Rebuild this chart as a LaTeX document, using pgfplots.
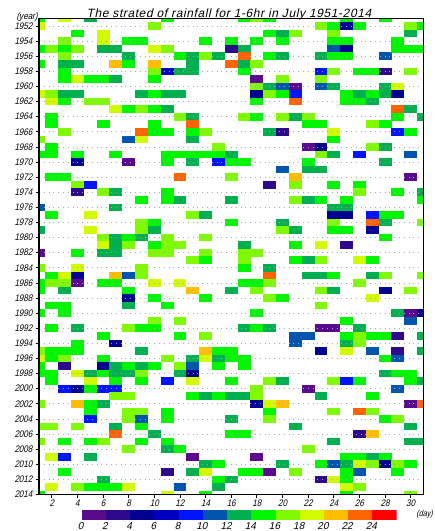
\documentclass[border=0pt]{standalone}
\usepackage{pgfplots}
\usepackage{pgfplotstable}
\pgfplotsset{compat=1.18}
\usepackage{fontspec}
\setmainfont{Liberation Sans}
\newfontfamily\gfont[FakeStretch=0.85,FakeSlant=0.22]{Liberation Sans}
\newfontfamily\tfont[FakeSlant=0.22,LetterSpace=5]{Liberation Sans}
\newfontfamily\cfont[FakeSlant=0.22]{Liberation Sans}
\definecolor{cb1}{RGB}{90,10,140}
\definecolor{cb2}{RGB}{45,10,140}
\definecolor{cb3}{RGB}{0,0,145}
\definecolor{cb4}{RGB}{0,0,190}
\definecolor{cb5}{RGB}{0,20,255}
\definecolor{cb6}{RGB}{0,85,175}
\definecolor{cb7}{RGB}{0,175,80}
\definecolor{cb8}{RGB}{0,245,0}
\definecolor{cb9}{RGB}{128,250,0}
\definecolor{cb10}{RGB}{210,250,0}
\definecolor{cb11}{RGB}{255,190,0}
\definecolor{cb12}{RGB}{255,100,0}
\definecolor{cb13}{RGB}{255,0,0}
\pgfdeclareplotmark{cell}{%
  \pgfpathrectangle{\pgfpoint{-6.46pt}{-3.83pt}}{\pgfpoint{12.92pt}{7.66pt}}%
  \pgfusepathqfill}
\pgfplotstableread{
year d1 d2 d3 d4 d5 d6 d7 d8 d9 d10 d11 d12 d13 d14 d15 d16 d17 d18 d19 d20 d21 d22 d23 d24 d25 d26 d27 d28 d29 d30 d31
1951 8 0 10 0 7 0 0 0 0 0  8 0 0 0 0 0 8 9 8 0  0 0 0 0 8 0 0 8 0 0  0
1952 10 0 0 0 0 0 0 0 0 9  0 0 0 0 0 0 0 0 0 0  0 0 9 8 3 8 0 0 0 9  8
1953 0 0 0 8 0 10 0 0 0 0  0 0 0 0 0 0 0 0 8 7  9 0 0 9 0 0 0 0 0 7  0
1954 0 0 9 0 0 10 0 8 8 0  0 0 0 8 0 8 0 8 0 8  0 0 0 8 8 0 0 0 8 0  0
1955 8 9 8 9 0 7 7 0 0 10  9 0 0 0 0 2 7 0 0 0  0 0 0 6 3 0 0 0 8 8  8
1956 0 0 9 0 0 0 0 7 0 0  0 8 7 9 7 0 12 0 8 7  0 0 7 8 8 0 0 6 0 0  0
1957 8 0 7 7 0 0 11 8 0 11  0 0 7 0 0 12 7 9 0 0  0 0 0 0 0 0 0 0 0 0  0
1958 0 0 8 0 0 0 0 0 0 9  4 7 7 0 0 0 8 0 0 0  0 0 5 9 0 8 8 2 0 9  0
1959 0 0 8 10 8 8 7 0 0 8  0 0 0 0 0 0 0 1 0 9  0 0 9 0 0 0 0 0 0 0  0
1960 0 0 0 0 0 0 0 0 0 0  0 0 0 0 0 0 0 9 7 6  1 0 6 7 0 0 0 7 10 0  0
1961 10 9 7 7 0 0 0 0 7 8  7 7 0 0 0 0 0 3 9 8  5 0 0 0 8 7 8 7 3 0  0
1962 0 10 8 0 9 9 0 0 0 0  0 0 0 0 0 0 0 8 0 0  12 0 0 0 8 8 7 0 0 0  0
1963 0 0 0 0 0 0 10 8 9 8  7 0 0 0 0 0 0 0 0 0  0 0 0 0 0 0 0 0 12 7  0
1964 0 8 0 0 0 0 0 0 0 0  0 9 7 0 0 0 9 8 0 9  7 9 0 0 0 0 0 0 8 0  7
1965 0 8 0 0 0 8 0 0 0 8  0 0 12 0 0 0 0 0 0 0  0 8 8 0 0 0 9 8 0 0  0
1966 0 0 9 0 0 0 0 0 12 8  8 0 8 9 0 0 0 0 7 2  0 0 0 10 0 0 0 0 5 8  0
1967 9 0 0 0 0 0 0 6 10 0  0 0 7 0 0 0 0 0 0 0  0 0 0 8 0 0 0 0 0 0  0
1968 0 8 0 0 0 0 0 0 0 0  0 0 0 0 9 0 0 0 0 0  0 1 3 0 0 0 9 7 0 0  0
1969 8 8 0 8 0 0 8 0 0 0  8 8 8 8 8 7 0 0 0 0  0 0 9 7 0 5 0 0 0 6  0
1970 0 0 0 3 0 0 0 1 0 0  8 0 7 0 5 8 8 0 0 0  0 8 0 0 0 0 0 7 0 0  0
1971 0 0 0 0 0 0 0 0 0 0  0 0 0 0 0 0 0 0 0 6  0 7 7 0 0 0 0 0 0 0  0
1972 0 8 8 0 0 0 0 0 0 0  0 12 0 0 0 9 0 0 0 0  11 0 0 0 0 0 0 0 0 1  0
1973 0 0 0 9 5 0 0 0 0 0  0 0 0 0 0 0 0 0 2 0  9 0 0 8 0 8 0 0 0 0  0
1974 0 0 0 2 0 9 7 0 0 0  8 0 0 0 0 0 0 0 0 0  0 0 0 0 0 9 0 0 8 0  7
1975 0 0 0 0 0 0 0 0 8 0  8 7 0 0 0 7 0 0 0 0  9 7 8 0 8 0 0 0 0 0  8
1976 6 0 0 0 0 0 7 0 0 0  0 0 0 0 0 0 0 0 0 0  0 0 0 7 7 0 0 0 0 0  0
1977 0 8 0 0 10 0 0 0 0 0  0 0 9 7 0 0 0 0 0 0  0 0 0 3 3 0 5 8 8 0  0
1978 0 0 0 0 0 0 0 0 9 8  0 0 0 0 0 8 0 0 0 7  0 0 0 9 0 0 12 7 0 0  9
1979 7 0 0 0 10 0 0 0 9 7  0 0 0 0 0 0 0 0 0 9  7 0 0 8 8 0 3 0 0 0  0
1980 0 0 0 0 0 9 7 8 7 0  9 0 0 9 0 0 0 0 0 0  0 0 0 0 0 0 0 8 0 0  0
1981 0 0 0 0 0 10 7 9 0 8  9 9 0 0 0 0 7 0 0 0  8 0 10 0 2 0 0 0 0 0  0
1982 1 0 0 8 0 7 7 0 0 9  9 0 0 9 0 0 9 9 0 0  0 0 0 0 0 0 0 0 0 0  0
1983 0 0 0 0 0 0 0 0 0 0  0 0 9 8 0 0 9 0 0 0  8 7 9 0 0 10 8 0 0 0  0
1984 9 0 0 10 0 0 0 0 9 0  0 0 0 0 0 0 8 0 7 0  0 0 0 0 0 0 0 0 0 0  0
1985 0 8 10 3 0 0 11 6 9 0  0 0 0 0 0 0 0 0 12 0  0 7 7 8 0 0 7 9 0 0  9
1986 8 9 9 1 0 8 8 0 0 10  0 10 0 0 0 0 8 8 9 0  0 0 0 0 0 9 0 0 0 0  0
1987 8 0 7 0 0 0 0 8 0 0  0 0 11 0 0 7 0 9 0 0  0 0 9 7 0 0 0 3 0 9  0
1988 0 0 0 0 0 0 0 3 0 8  0 0 0 8 0 0 0 0 9 8  0 0 0 0 0 0 10 0 0 0  0
1989 0 8 8 0 0 0 0 7 0 0  8 0 0 0 0 0 0 0 0 0  0 0 9 0 0 0 0 0 0 0  0
1990 8 0 8 0 0 0 0 0 0 0  0 0 0 0 0 0 0 8 0 0  0 0 0 0 0 0 0 0 7 1  3
1991 0 0 0 0 0 0 0 0 0 9  0 9 0 0 0 0 0 0 0 0  0 0 0 0 8 0 0 0 0 6  0
1992 0 8 0 7 0 0 0 9 8 8  0 0 0 0 0 0 7 8 7 0  0 0 1 1 0 7 0 0 0 0  0
1993 0 0 0 0 0 8 0 0 0 0  0 8 0 9 0 0 0 0 0 0  6 6 0 0 8 9 8 8 2 0  7
1994 0 0 0 8 0 0 3 0 0 0  0 0 0 0 0 0 0 0 0 0  6 0 0 0 7 9 0 0 0 0  0
1995 9 8 8 8 0 0 0 0 7 0  0 0 0 11 8 8 0 0 0 0  0 0 3 0 10 0 6 0 2 0  7
1996 10 8 9 0 0 8 0 0 0 0  9 0 7 10 7 8 8 0 0 0  0 0 0 0 0 0 0 8 6 0  0
1997 8 0 2 0 0 3 7 8 7 8  0 9 6 0 8 0 8 0 0 0  0 0 0 0 0 0 0 0 0 0  0
1998 8 8 0 10 7 8 7 7 9 0  0 7 3 0 0 0 0 0 0 0  0 0 0 0 0 0 0 7 8 8  0
1999 0 8 0 0 10 0 8 0 8 0  5 0 10 0 0 8 0 0 9 7  0 0 0 9 5 8 0 0 0 8  7
2000 0 0 5 3 8 5 5 0 0 0  0 0 0 0 0 0 0 9 0 0  0 1 0 0 0 0 0 0 6 0  0
2001 0 0 0 0 0 0 9 9 0 0  0 0 8 7 8 7 7 9 0 0  0 0 7 0 0 0 8 0 0 0  0
2002 9 0 0 11 8 7 0 0 0 0  0 0 0 0 0 0 0 3 10 11  0 0 0 0 0 0 0 0 0 1  12
2003 0 0 0 0 8 0 0 9 9 0  8 0 0 0 0 0 0 0 8 0  0 0 0 9 0 12 9 0 0 0  0
2004 0 0 0 0 5 0 0 9 6 0  8 0 0 0 0 7 0 0 9 0  0 0 0 0 0 0 0 8 9 0  0
2005 9 9 0 9 0 0 7 0 8 0  0 0 0 0 0 0 0 0 0 0  7 0 0 0 0 0 0 0 0 7  0
2006 0 0 0 0 0 0 12 0 0 7  0 0 0 0 0 8 8 0 0 0  0 0 0 0 0 2 11 0 0 0  0
2007 9 0 8 0 8 9 0 0 8 0  8 0 0 0 0 0 0 0 0 0  0 0 0 7 0 0 0 0 0 7  7
2008 0 0 0 0 0 0 0 9 0 0  7 8 0 0 0 0 0 0 0 0  0 9 0 0 0 0 0 0 0 0  0
2009 0 10 5 0 7 0 0 0 0 0  0 0 1 0 0 0 0 1 0 0  0 0 0 0 8 8 7 8 0 0  0
2010 0 0 0 0 0 0 0 0 0 0  0 0 0 7 8 0 0 0 0 7  0 0 8 6 7 10 9 3 9 8  0
2011 0 0 8 0 0 0 0 0 0 0  2 0 7 10 0 0 8 8 1 0  9 0 0 0 8 6 0 0 8 0  0
2012 0 0 0 0 0 7 0 0 0 0  0 0 0 0 8 7 0 0 0 0  0 0 2 10 8 0 0 0 0 0  0
2013 0 10 0 9 8 8 8 10 0 0  0 6 0 0 7 0 0 0 0 0  0 0 0 0 10 9 0 0 0 0  0
2014 8 0 0 0 0 0 0 0 0 0  10 0 0 8 0 0 0 0 0 0  0 0 0 0 8 0 0 0 0 9  0
}\datatable
\begin{document}
\begin{tikzpicture}[x=1pt,y=1pt]
\useasboundingbox (0,0) rectangle (435,531);
\begin{axis}[
  at={(39pt,36.5pt)}, anchor=south west,
  scale only axis, width=384.5pt, height=476pt,
  xmin=1, xmax=31, ymin=1951, ymax=2014, y dir=reverse,
  xtick={2,4,...,30}, ytick={1952,1954,...,2014},
  tick align=outside, major tick length=3pt,
  xtick pos=left, ytick pos=left,
  tick style={black, line width=0.8pt},
  axis line style={black, line width=1.1pt},
  ymajorgrids=true,
  major grid style={gray!70, line width=0.8pt, dash pattern=on 0.8pt off 4pt},
  axis on top,
  clip mode=individual, clip marker paths=true,
  tick label style={font=\gfont\fontsize{9.5}{9.5}\selectfont},
  /pgf/number format/1000 sep={},
  /pgf/number format/assume math mode=true,
  xticklabel style={yshift=1.5pt},
  title={The strated of rainfall for 1-6hr in July 1951-2014},
  title style={font=\tfont\fontsize{12}{12}\selectfont, at={(0.494,1)}, anchor=base, yshift=-5pt},
  extra description/.code={
    \node[font=\gfont\fontsize{9.5}{9.5}\selectfont] at (axis description cs:-0.031,1.004) {(year)};
    \node[font=\gfont\fontsize{8.5}{8.5}\selectfont, anchor=north] at (axis description cs:1.003,-0.0255) {(day)};
  },
  scatter/classes={1={cb1},2={cb2},3={cb3},4={cb4},5={cb5},6={cb6},7={cb7},8={cb8},9={cb9},10={cb10},11={cb11},12={cb12},13={cb13}},
]
\pgfplotsinvokeforeach{1,...,31}{
  \addplot[scatter, only marks, mark=cell, point meta=explicit symbolic,
    restrict expr to domain={\thisrow{d#1}}{0.5:13.5}]
    table[x expr=#1, y=year, meta=d#1] {\datatable};
}
\end{axis}
\begin{axis}[
  at={(81.7pt,11pt)}, anchor=south west,
  scale only axis, width=315pt, height=10pt,
  xmin=0, xmax=26, ymin=0, ymax=1,
  axis line style={draw=none},
  xtick={0,2,...,24}, ytick=\empty, major tick length=0pt,
  tick label style={font=\cfont\fontsize{10}{10}\selectfont},
  /pgf/number format/assume math mode=true,
  xticklabel style={xshift=-1pt, yshift=1pt},
]
\addplot[fill=cb1,draw=none] coordinates {(0,0) (0,1) (2,1) (2,0)} -- cycle;
\addplot[fill=cb2,draw=none] coordinates {(2,0) (2,1) (4,1) (4,0)} -- cycle;
\addplot[fill=cb3,draw=none] coordinates {(4,0) (4,1) (6,1) (6,0)} -- cycle;
\addplot[fill=cb4,draw=none] coordinates {(6,0) (6,1) (8,1) (8,0)} -- cycle;
\addplot[fill=cb5,draw=none] coordinates {(8,0) (8,1) (10,1) (10,0)} -- cycle;
\addplot[fill=cb6,draw=none] coordinates {(10,0) (10,1) (12,1) (12,0)} -- cycle;
\addplot[fill=cb7,draw=none] coordinates {(12,0) (12,1) (14,1) (14,0)} -- cycle;
\addplot[fill=cb8,draw=none] coordinates {(14,0) (14,1) (16,1) (16,0)} -- cycle;
\addplot[fill=cb9,draw=none] coordinates {(16,0) (16,1) (18,1) (18,0)} -- cycle;
\addplot[fill=cb10,draw=none] coordinates {(18,0) (18,1) (20,1) (20,0)} -- cycle;
\addplot[fill=cb11,draw=none] coordinates {(20,0) (20,1) (22,1) (22,0)} -- cycle;
\addplot[fill=cb12,draw=none] coordinates {(22,0) (22,1) (24,1) (24,0)} -- cycle;
\addplot[fill=cb13,draw=none] coordinates {(24,0) (24,1) (26,1) (26,0)} -- cycle;
\end{axis}
\end{tikzpicture}
\end{document}
